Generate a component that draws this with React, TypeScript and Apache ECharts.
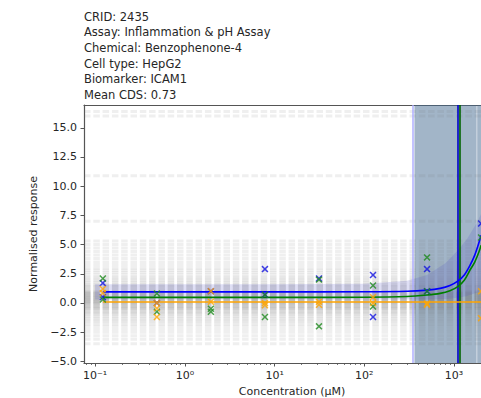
import React, { useEffect, useRef } from 'react';
import * as echarts from 'echarts';

// ---------- data ----------
const titleLines = [
  'CRID: 2435',
  'Assay: Inflammation & pH Assay',
  'Chemical: Benzophenone-4',
  'Cell type: HepG2',
  'Biomarker: ICAM1',
  'Mean CDS: 0.73',
];

const concentrations = [0.122, 0.488, 1.95, 7.81, 31.25, 125, 500, 2000];

const blueRep1 = [1.7, 0.0, 1.0, 2.9, 2.1, 2.4, 2.9, 6.8];
const blueRep2 = [0.5, null, null, 0.7, null, -1.2, 1.0, null];
const greenRep1 = [2.1, 0.8, -0.5, 0.7, 2.0, 1.5, 3.9, 5.6];
const greenRep2 = [0.3, -0.75, -0.75, -1.2, -2.0, -0.3, 1.0, null];
const orangeRep1 = [1.2, 0.0, 1.0, 0.0, 0.1, 0.5, -0.05, 1.0];
const orangeRep2 = [0.85, -1.2, 0.1, -0.2, -0.15, 0.0, -0.15, -1.3];
const orangeRep3 = [null, -0.45, null, null, null, null, null, null];

const fitConc = [0.122, 1, 10, 100, 300, 500, 700, 900, 1100, 1300, 1500, 1700, 1900, 2000];
const blueFit = [0.95, 0.95, 0.95, 0.96, 1.0, 1.1, 1.25, 1.5, 1.87, 2.4, 3.2, 4.1, 5.2, 5.8];
const greenFit = [0.48, 0.48, 0.48, 0.49, 0.55, 0.68, 0.82, 1.05, 1.4, 1.95, 2.8, 3.5, 4.4, 4.95];
const orangeFit = [0.08, 0.08, 0.08, 0.08, 0.08, 0.08, 0.08, 0.08, 0.08, 0.08, 0.08, 0.08, 0.08, 0.08];

const ciConc = [0.1, 1, 10, 100, 300, 500, 800, 1100, 1400, 1800, 2000];
const ciLow = [0.3, 0.3, 0.3, 0.3, 0.3, 0.3, 0.35, 0.45, 0.6, 0.9, 1.1];
const ciHigh = [1.6, 1.6, 1.6, 1.65, 1.9, 2.4, 3.4, 4.5, 5.5, 6.9, 7.6];

const bootstrapLevels = [
  -3.5, -3.1, -2.8, -2.5, -2.25, -2.0, -1.8, -1.6, -1.45, -1.3, -1.15, -1.0, -0.9, -0.8,
  -0.7, -0.6, -0.5, -0.45, -0.4, -0.3, -0.25, -0.2, -0.1, -0.05, 0.0, 0.05, 0.1, 0.15, 0.2,
  0.25, 0.3, 0.35, 0.4, 0.45, 0.5, 0.55, 0.6, 0.65, 0.7, 0.75, 0.8, 0.85, 0.9, 0.95, 1.0,
  1.1, 1.2, 1.3, 1.4, 1.5, 1.6, 1.75, 1.9, 2.05, 2.2, 2.4, 2.6, 2.8, 3.0, 3.25, 3.5, 3.8,
  4.1, 4.4, 4.7, 5.0, 5.3, 7.0, 10.9, 16.0, 16.4,
];

const shadedStart = 347;
const shadedSpans = [
  [362, 1785],
  [1810, 3250],
];
const blueCutoff = 1090;
const greenCutoff = 1150;

const xTickValues = [0.1, 1, 10, 100, 1000];
const xTickLabels = ['10\u207B\u00B9', '10\u2070', '10\u00B9', '10\u00B2', '10\u00B3'];
const xMinorTicks = [
  0.08, 0.09, 0.2, 0.3, 0.4, 0.5, 0.6, 0.7, 0.8, 0.9, 2, 3, 4, 5, 6, 7, 8, 9, 20, 30, 40,
  50, 60, 70, 80, 90, 200, 300, 400, 500, 600, 700, 800, 900, 2000, 3000,
];
const yTickValues = [-5, -2.5, 0, 2.5, 5, 7.5, 10, 12.5, 15];

const X_MIN = 0.0752;
const X_MAX = 3250;
const Y_MIN = -5.14;
const Y_MAX = 16.95;

// ---------- styling ----------
const FONT = 'DejaVu Sans';
const TEXT = '#262626';
const AXIS = '#555555';
const X_SYMBOL =
  'path://M0,1.5L1.5,0L5,3.5L8.5,0L10,1.5L6.5,5L10,8.5L8.5,10L5,6.5L1.5,10L0,8.5L3.5,5Z';

function pairs(xs: number[], ys: (number | null)[]) {
  const out: number[][] = [];
  xs.forEach((x, i) => {
    const y = ys[i];
    if (y !== null && y !== undefined) out.push([x, y]);
  });
  return out;
}

function scatter(name: string, color: string, reps: (number | null)[][], z: number) {
  const data = reps.flatMap((r) => pairs(concentrations, r));
  return {
    type: 'scatter',
    name,
    data,
    symbol: X_SYMBOL,
    symbolSize: 7,
    itemStyle: { color, opacity: 0.8 },
    silent: true,
    z,
  };
}

function fit(color: string, ys: number[]) {
  return {
    type: 'line',
    data: pairs(fitConc, ys),
    symbol: 'none',
    smooth: 0.3,
    silent: true,
    lineStyle: { color, width: 1.6 },
    z: 5,
  };
}

export default function App() {
  const ref = useRef<HTMLDivElement>(null);

  useEffect(() => {
    if (!ref.current) return;
    const chart = echarts.init(ref.current, undefined, { renderer: 'svg' });

    const grayLines = bootstrapLevels.map((lvl) => ({
      type: 'line',
      data: [
        [X_MIN, lvl],
        [X_MAX, lvl],
      ],
      symbol: 'none',
      silent: true,
      lineStyle: { color: '#6f6f6f', width: 3, opacity: 0.11, type: [6.5, 2.8] },
      z: 1,
    }));

    const xLabelFor = (v: number) => {
      const i = xTickValues.findIndex((t) => Math.abs(Math.log10(t) - Math.log10(v)) < 1e-6);
      return i >= 0 ? xTickLabels[i] : '';
    };

    const option: any = {
      animation: false,
      backgroundColor: '#ffffff',
      title: {
        text: titleLines.join('\n'),
        left: 84,
        top: 9,
        padding: 0,
        textStyle: {
          fontFamily: FONT,
          fontSize: 11.5,
          lineHeight: 15.6,
          color: TEXT,
          fontWeight: 'normal',
        },
      },
      grid: {
        left: 84,
        top: 105,
        right: 40,
        bottom: 35,
        containLabel: false,
        outerBoundsMode: 'none',
      },
      xAxis: [
        {
          type: 'log',
          logBase: 10,
          min: X_MIN,
          max: X_MAX,
          position: 'bottom',
          name: 'Concentration (\u00B5M)',
          nameLocation: 'middle',
          nameGap: 23,
          nameTextStyle: { fontFamily: FONT, fontSize: 11, color: TEXT },
          axisLine: { show: true, onZero: false, lineStyle: { color: AXIS, width: 1.2 } },
          axisTick: {
            show: true,
            customValues: xTickValues,
            length: 3.5,
            lineStyle: { color: AXIS, width: 1 },
          },
          axisLabel: {
            customValues: xTickValues,
            formatter: (v: number) => xLabelFor(v),
            margin: 7,
            fontFamily: FONT,
            fontSize: 11,
            color: TEXT,
          },
          splitLine: { show: false },
          minorTick: { show: false },
          minorSplitLine: { show: false },
        },
        {
          type: 'log',
          logBase: 10,
          min: X_MIN,
          max: X_MAX,
          position: 'bottom',
          axisLine: { show: false, onZero: false },
          axisTick: {
            show: true,
            customValues: xMinorTicks,
            length: 2,
            lineStyle: { color: AXIS, width: 0.8 },
          },
          axisLabel: { show: false },
          splitLine: { show: false },
        },
        {
          type: 'log',
          logBase: 10,
          min: X_MIN,
          max: X_MAX,
          position: 'top',
          axisLine: { show: true, onZero: false, lineStyle: { color: AXIS, width: 1.2 } },
          axisTick: { show: false },
          axisLabel: { show: false },
          splitLine: { show: false },
        },
      ],
      yAxis: [
        {
          type: 'value',
          min: Y_MIN,
          max: Y_MAX,
          name: 'Normalised response',
          nameLocation: 'middle',
          nameGap: 29,
          nameRotate: 90,
          nameTextStyle: { fontFamily: FONT, fontSize: 11, color: TEXT },
          axisLine: { show: true, onZero: false, lineStyle: { color: AXIS, width: 1.2 } },
          axisTick: {
            show: true,
            customValues: yTickValues,
            length: 3.5,
            lineStyle: { color: AXIS, width: 1 },
          },
          axisLabel: {
            customValues: yTickValues,
            formatter: (v: number) => (v < 0 ? '\u2212' + Math.abs(v).toFixed(1) : v.toFixed(1)),
            margin: 7,
            fontFamily: FONT,
            fontSize: 11,
            color: TEXT,
          },
          splitLine: { show: false },
        },
      ],
      series: [
        ...grayLines,
        {
          type: 'custom',
          data: ciConc.map((c, i) => [c, ciLow[i], ciHigh[i]]),
          encode: { x: 0, y: [1, 2] },
          silent: true,
          clip: true,
          z: 2,
          renderItem: (params: any, api: any) => {
            if (params.dataIndex !== 0) return null;
            const upper = ciConc.map((c, i) => api.coord([c, ciHigh[i]]));
            const lower = ciConc.map((c, i) => api.coord([c, ciLow[i]])).reverse();
            return {
              type: 'polygon',
              shape: { points: upper.concat(lower) },
              style: { fill: 'rgba(80,80,200,0.18)' },
              silent: true,
            };
          },
        },
        {
          type: 'line',
          data: [],
          silent: true,
          z: 3,
          markArea: {
            silent: true,
            itemStyle: { color: 'rgb(70,108,145)', opacity: 0.5 },
            data: shadedSpans.map(([a, b]) => [{ xAxis: a }, { xAxis: b }]),
          },
          markLine: {
            silent: true,
            symbol: 'none',
            label: { show: false },
            data: [
              {
                xAxis: shadedStart,
                lineStyle: { color: 'rgba(170,170,255,0.7)', width: 2, type: 'solid' },
              },
            ],
          },
        },
        fit('#0000ff', blueFit),
        fit('#008000', greenFit),
        fit('#ffa500', orangeFit),
        {
          type: 'line',
          data: [],
          silent: true,
          z: 7,
          markLine: {
            silent: true,
            symbol: 'none',
            label: { show: false },
            data: [
              { xAxis: blueCutoff, lineStyle: { color: '#0000cc', width: 1.6, type: 'solid' } },
              { xAxis: greenCutoff, lineStyle: { color: '#006400', width: 1.6, type: 'solid' } },
            ],
          },
        },
        scatter('blue', '#1010e0', [blueRep1, blueRep2], 6),
        scatter('green', '#1f8a1f', [greenRep1, greenRep2], 6),
        scatter('orange', '#ffa500', [orangeRep1, orangeRep2, orangeRep3], 6),
      ],
    };

    chart.setOption(option);
    return () => {
      chart.dispose();
    };
  }, []);

  return (
    <div
      style={{
        position: 'absolute',
        left: 0,
        top: 0,
        width: 481,
        height: 398,
        overflow: 'hidden',
        background: '#ffffff',
      }}
    >
      <div ref={ref} style={{ width: 540, height: 398 }} />
    </div>
  );
}
